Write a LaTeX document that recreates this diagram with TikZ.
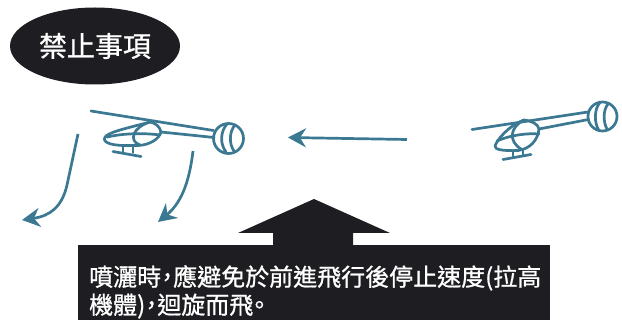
\documentclass[tikz,border=0pt]{standalone}
\usepackage{fontspec}
\usetikzlibrary{arrows.meta,shapes.geometric}
\newfontfamily\cjk{Noto Sans CJK TC}[FakeBold=0.9]
\newfontfamily\cjktext{Noto Sans CJK TC}[FakeBold=0.9,RawFeature=+halt]
\definecolor{inkteal}{RGB}{59,120,146}
\definecolor{panel}{RGB}{30,29,33}
\begin{document}
\begin{tikzpicture}[x=1pt,y=-1pt,
  heli/.style={draw=inkteal,line width=2.7pt,line cap=round,line join=round},
  flow/.style={draw=inkteal,line width=2.7pt,
    -{Stealth[length=18pt,width=19pt,inset=6pt]}},
  label/.style={text=white,inner sep=0pt,align=left,
    font=\cjktext\fontsize{24}{28}\selectfont}]
\useasboundingbox (0,0) rectangle (622,320);

% title badge
\node[ellipse,fill=panel,minimum width=170pt,minimum height=77pt,inner sep=0pt,
  text=white,font=\cjk\fontsize{28}{32}\selectfont] (title) at (95,46) {禁止事項};

% left helicopter (nose up, tail down)
\coordinate (mastL) at (150,122);
\coordinate (tailL) at (228.5,138.5);
\draw[heli] (91,111) -- (213.5,130.5);
\draw[heli] (tailL) circle[radius=15];
\draw[heli] (227,124) .. controls (220,132) and (220,144) .. (226,152);
\draw[heli] (235,125) .. controls (229,132) and (229,144) .. (234,151);
\draw[heli] (mastL) .. controls (156,123) and (160,127) .. (161,132) -- (214,137.5);
\draw[heli] (161,132) .. controls (159,139) and (150,145) .. (138,145.5);
\draw[heli] (mastL) .. controls (132,127) and (112,131) .. (106,136)
  .. controls (101,141) and (108,145.5) .. (125,145.5) -- (138,145.5);
\draw[heli] (mastL) .. controls (133,127) and (128,141) .. (140,145);
\draw[heli] (107,137) .. controls (125,133) and (145,133) .. (160,135);
\draw[heli] (123,145.5) -- (123,151.5) (133,145.5) -- (133,152.5);
\draw[heli] (113,151.5) -- (141,156.5);

% right helicopter (tail up)
\coordinate (mastR) at (524,120);
\coordinate (tailR) at (602.5,116.5);
\draw[heli] (472,129.5) -- (588,112);
\draw[heli] (tailR) circle[radius=14.5];
\draw[heli] (600,102.5) .. controls (594,109) and (594,123) .. (599,130.5);
\draw[heli] (608,104) .. controls (603,110) and (603,122) .. (607,129);
\draw[heli] (mastR) .. controls (532,121) and (538,124) .. (539,129) -- (588.5,119.5);
\draw[heli] (539,129) .. controls (538,140) and (530,149) .. (518,150.5);
\draw[heli] (mastR) .. controls (508,126) and (497,140) .. (495,146)
  .. controls (494,150) and (505,151) .. (518,150.5);
\draw[heli] (mastR) .. controls (510,127) and (508,141) .. (521,149);
\draw[heli] (497,141) .. controls (510,135) and (528,133) .. (539,134);
\draw[heli] (513,150.5) -- (513,157.5) (523,149.5) -- (523,155.5);
\draw[heli] (503,159.5) -- (531,154.5);

% motion arrows
\coordinate (a1s) at (78,134);
\coordinate (a1e) at (22,220);
\draw[flow] (a1s) -- (67,185) .. controls (62,207) and (50,216) .. (a1e);
\coordinate (a2s) at (193,151);
\coordinate (a2e) at (158,222);
\draw[flow] (a2s) .. controls (189,185) and (180,204) .. (a2e);
\coordinate (a3s) at (407,139.5);
\coordinate (a3e) at (288,137.5);
\draw[flow] (a3s) -- (a3e);

% caption panel with upward arrow
\fill[panel] (78,245) rectangle (550,320);
\fill[panel] (273,246) -- (273,233) -- (238,233) -- (314,199) -- (390,233)
  -- (353,233) -- (353,246) -- cycle;
\node[label,anchor=north west] (caption) at (89,265)
  {噴灑時，應避免於前進飛行後停止速度(拉高\\機體)，迴旋而飛。};
\end{tikzpicture}
\end{document}
